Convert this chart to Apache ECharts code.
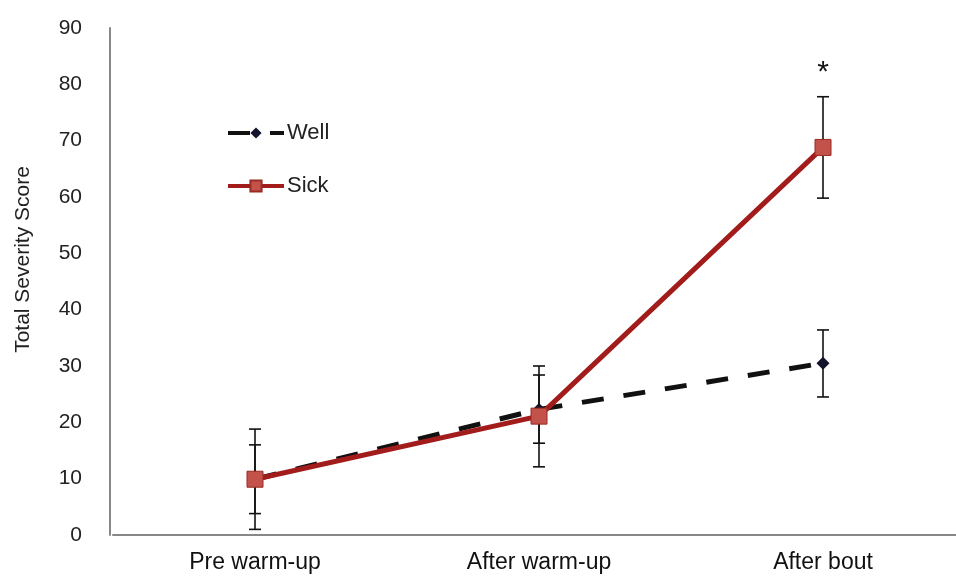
<!DOCTYPE html>
<html>
<head>
<meta charset="utf-8">
<script src="https://cdn.jsdelivr.net/npm/echarts@6/dist/echarts.min.js"></script>
<style>
html,body{margin:0;padding:0;background:#fff;}
#chart{width:956px;height:578px;}
</style>
</head>
<body>
<div id="chart"></div>
<script>
var categories = ['Pre warm-up', 'After warm-up', 'After bout'];
var wellMean = [9.9, 22.3, 30.5];
var wellLow = [3.8, 16.3, 24.5];
var wellHigh = [16.0, 28.4, 36.4];
var sickMean = [9.9, 21.1, 68.8];
var sickLow = [1.0, 12.1, 59.8];
var sickHigh = [18.8, 30.0, 77.8];
var significance = ['', '', '*'];
var yTicks = [0, 10, 20, 30, 40, 50, 60, 70, 80, 90];

function errData(low, high, marks) {
  return categories.map(function (c, i) { return [i, low[i], high[i], marks ? marks[i] : '']; });
}

function errRender(params, api) {
  var x = api.value(0);
  var lo = api.coord([x, api.value(1)]);
  var hi = api.coord([x, api.value(2)]);
  var cap = 6;
  var st = { stroke: '#111', lineWidth: 1.6 };
  var children = [
    { type: 'line', shape: { x1: lo[0], y1: lo[1], x2: hi[0], y2: hi[1] }, style: st },
    { type: 'line', shape: { x1: lo[0] - cap, y1: lo[1], x2: lo[0] + cap, y2: lo[1] }, style: st },
    { type: 'line', shape: { x1: hi[0] - cap, y1: hi[1], x2: hi[0] + cap, y2: hi[1] }, style: st }
  ];
  var mark = api.value(3);
  if (mark) {
    children.push({ type: 'text', style: { text: mark, x: hi[0], y: hi[1] - 24, align: 'center', verticalAlign: 'middle', fontSize: 30, fontFamily: 'Liberation Sans, Arial, sans-serif', fill: '#111' } });
  }
  return { type: 'group', children: children };
}

var chart = echarts.init(document.getElementById('chart'), null, { renderer: 'canvas' });
chart.setOption({
  backgroundColor: '#ffffff',
  animation: false,
  textStyle: { fontFamily: 'Liberation Sans, Arial, sans-serif' },
  grid: { left: 113, width: 852, top: 28, bottom: 43, containLabel: false, outerBoundsMode: 'none' },
  legend: {
    data: ['Well', 'Sick'],
    orient: 'vertical',
    left: 221,
    top: 117,
    itemWidth: 56,
    itemHeight: 14,
    itemGap: 31,
    lineStyle: { width: 4 },
    textStyle: { fontSize: 22, color: '#222', padding: [0, 0, 0, -2] }
  },
  xAxis: {
    type: 'category',
    data: categories,
    boundaryGap: true,
    axisLine: { lineStyle: { color: '#888', width: 2 } },
    axisTick: { show: false },
    axisLabel: { fontSize: 23, color: '#111', margin: 16 },
    splitLine: { show: false }
  },
  yAxis: {
    type: 'value',
    min: yTicks[0],
    max: yTicks[yTicks.length - 1],
    interval: 10,
    offset: 3,
    name: 'Total Severity Score',
    nameLocation: 'middle',
    nameGap: 76,
    nameTextStyle: { fontSize: 21, color: '#222', padding: [0, 0, 0, 44] },
    axisLine: { show: true, lineStyle: { color: '#888', width: 2 } },
    axisTick: { show: false },
    axisLabel: { fontSize: 21, color: '#222', margin: 28 },
    splitLine: { show: false }
  },
  series: [
    {
      name: 'Well error', type: 'custom', renderItem: errRender,
      data: errData(wellLow, wellHigh), z: 1, silent: true,
      encode: { x: 0, y: [1, 2] }
    },
    {
      name: 'Sick error', type: 'custom', renderItem: errRender,
      data: errData(sickLow, sickHigh, significance), z: 1, silent: true,
      encode: { x: 0, y: [1, 2] }
    },
    {
      name: 'Well', type: 'line', data: wellMean, z: 3,
      symbol: 'diamond', symbolSize: 13,
      itemStyle: { color: '#12122a', borderWidth: 0 },
      lineStyle: { color: '#111', width: 5, type: [22, 20] }
    },
    {
      name: 'Sick', type: 'line', data: sickMean, z: 4,
      symbol: 'rect', symbolSize: 16,
      itemStyle: { color: '#c2524a', borderColor: '#9a2a24', borderWidth: 1 },
      lineStyle: { color: '#a31c1c', width: 5 }
    }
  ]
});
</script>
</body>
</html>
